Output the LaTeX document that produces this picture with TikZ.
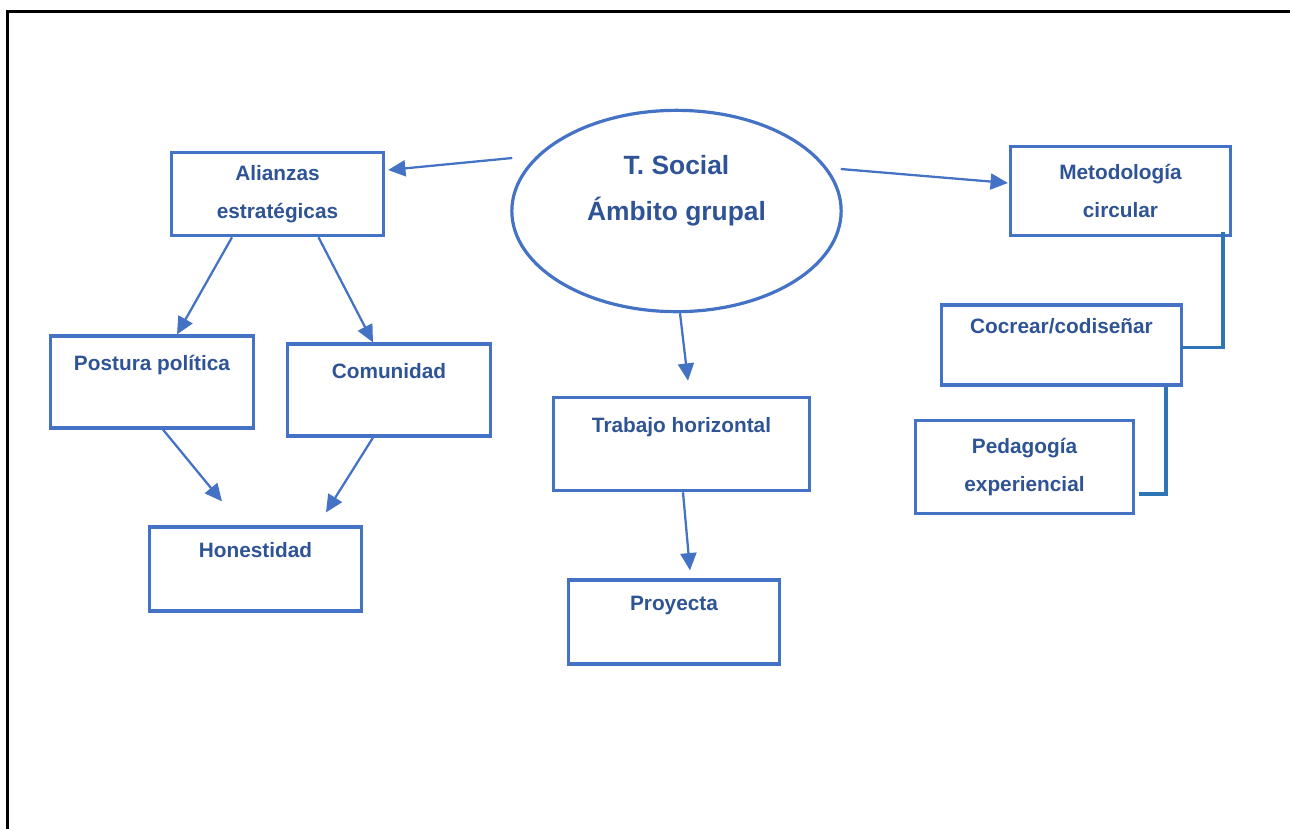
\documentclass[tikz,border=0pt]{standalone}
\usepackage{fontspec}
\setmainfont{Liberation Sans}
\usetikzlibrary{arrows.meta,shapes.geometric}
\definecolor{boxblue}{HTML}{4472C4}
\definecolor{textblue}{HTML}{2F5496}
\definecolor{linkblue}{HTML}{2E75B6}

\begin{document}
\begin{tikzpicture}[x=0.75pt,y=-0.75pt,
  box/.style={draw=boxblue,line width=2.4pt,align=center,text=textblue,
    font=\fontsize{15.6}{28}\selectfont\bfseries},
  arr/.style={draw=boxblue,line width=1.7pt,-{Triangle[length=13pt,width=12pt]}},
  link/.style={draw=linkblue,line width=2.4pt}]
  \useasboundingbox (0,0) rectangle (1290,829);
  \draw[line width=2.25pt] (7,829) -- (7,11) -- (1290,11);

  % centre
  \node[box,ellipse,minimum width=247pt,minimum height=151pt,
        font=\fontsize{19.8}{34.5}\selectfont\bfseries] (ell) at (676.5,211)
        {T. Social\\Ámbito grupal\\\vphantom{A}};

  % left branch
  \node[box,minimum width=159pt,minimum height=62.5pt] (ali) at (277.5,194) {Alianzas\\estratégicas};
  \node[box,minimum width=152.5pt,minimum height=69pt] (pos) at (152,382) {Postura política\\\vphantom{A}};
  \node[box,minimum width=152.5pt,minimum height=69pt] (com) at (389,390) {Comunidad\\\vphantom{A}};
  \node[box,minimum width=159pt,minimum height=63pt] (hon) at (255.5,569) {Honestidad\\\vphantom{A}};

  % middle branch
  \node[box,minimum width=192pt,minimum height=70pt] (tra) at (681.5,444) {Trabajo horizontal\\\vphantom{A}};
  \node[box,minimum width=158.5pt,minimum height=63pt] (pro) at (674,622) {Proyecta\\\vphantom{A}};

  % right branch
  \node[box,minimum width=165pt,minimum height=67pt] (met) at (1120.5,191) {Metodología\\circular};
  \node[box,minimum width=180pt,minimum height=60pt] (coc) at (1061.5,345) {Cocrear/codiseñar\\\vphantom{A}};
  \node[box,minimum width=163.5pt,minimum height=70pt] (ped) at (1024.5,467) {Pedagogía\\experiencial};

  \draw[arr] ([shift={(2,-53)}]ell.west) -- ([shift={(3,-24)}]ali.east);
  \draw[arr] ([shift={(-2,-42)}]ell.east) -- ([shift={(-1,-8)}]met.west);
  \draw[arr] ([shift={(-45.5,0)}]ali.south) -- ([shift={(25,0)}]pos.north);
  \draw[arr] ([shift={(41,0)}]ali.south) -- ([shift={(-16,0)}]com.north);
  \draw[arr] ([shift={(11,0)}]pos.south) -- ([shift={(-33.5,-24)}]hon.north);
  \draw[arr] ([shift={(-16,0)}]com.south) -- ([shift={(70.5,-13)}]hon.north);
  \draw[arr] ([shift={(3.5,0)}]ell.south) -- ([shift={(6.5,-15)}]tra.north);
  \draw[arr] ([shift={(1.5,0)}]tra.south) -- ([shift={(16,-8)}]pro.north);

  \draw[link] ([shift={(102.5,-5)}]met.south) |- ([shift={(-2,2.5)}]coc.east);
  \draw[link] ([shift={(104.5,0)}]coc.south) |- ([shift={(4,27)}]ped.east);
\end{tikzpicture}
\end{document}
